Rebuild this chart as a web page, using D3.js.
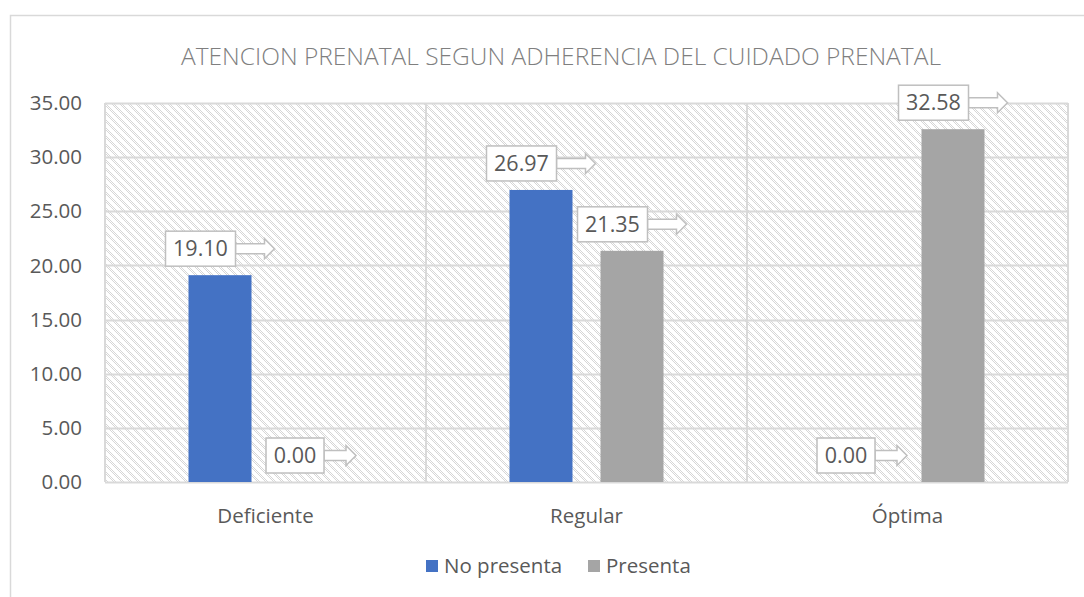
<!DOCTYPE html>
<html><head><meta charset="utf-8">
<script src="https://cdn.jsdelivr.net/npm/d3@7/dist/d3.min.js"></script>
<style>body{margin:0;background:#fff}svg{display:block}</style>
</head><body><svg id="c" width="1084" height="597"></svg>
<script>
const categories = ["Deficiente", "Regular", "Óptima"];
const seriesNames = ["No presenta", "Presenta"];
const noPresenta = [19.10, 26.97, 0.00];
const presenta = [0.00, 21.35, 32.58];
const yTicks = [0, 5, 10, 15, 20, 25, 30, 35];
const title = "ATENCION PRENATAL SEGUN ADHERENCIA DEL CUIDADO PRENATAL";
const colors = ["#4472c4", "#a5a5a5"];

const font = "'Open Sans', 'Noto Sans', sans-serif";
const svg = d3.select("#c");
const m = {left: 105, right: 1068, top: 103, bottom: 482};

// outer chart border
svg.append("rect").attr("x", 10.5).attr("y", 15.5).attr("width", 1100).attr("height", 700)
  .attr("fill", "#fff").attr("stroke", "#d9d9d9").attr("stroke-width", 1.5);

// pattern (dotted wide downward diagonal)
const defs = svg.append("defs");
const pat = defs.append("pattern").attr("id", "hatch").attr("patternUnits", "userSpaceOnUse")
  .attr("width", 8).attr("height", 8);
pat.append("rect").attr("width", 8).attr("height", 8).attr("fill", "#fff");
for (let px = 0; px < 8; px++) for (let py = 0; py < 8; py++) {
  const k = ((px - py) % 8 + 8) % 8;
  if (k < 4 && (px + py) % 2 === 0)
    pat.append("rect").attr("x", px).attr("y", py).attr("width", 1).attr("height", 1).attr("fill", "#d6d6d6");
}

const x0 = d3.scaleBand().domain(categories).range([m.left, m.right]).paddingInner(0).paddingOuter(0);
const y = d3.scaleLinear().domain([0, 35]).range([m.bottom, m.top]);
const bw = 63;
const x1pos = (i) => x0.bandwidth()/2 + (i === 0 ? -45.5 : 45.5) - bw/2;

svg.append("rect").attr("x", m.left).attr("y", m.top).attr("width", m.right - m.left).attr("height", m.bottom - m.top)
  .attr("fill", "url(#hatch)");

// gridlines
svg.append("g").selectAll("line").data(yTicks).join("line")
  .attr("x1", m.left).attr("x2", m.right)
  .attr("y1", d => Math.round(y(d)) + 0.5).attr("y2", d => Math.round(y(d)) + 0.5)
  .attr("stroke", "#d9d9d9").attr("stroke-width", 2);
const bounds = categories.map(c => x0(c)).concat([x0(categories[categories.length-1]) + x0.bandwidth()]);
svg.append("g").selectAll("line").data(bounds).join("line")
  .attr("x1", d => d).attr("x2", d => d).attr("y1", m.top).attr("y2", m.bottom)
  .attr("stroke", "#d9d9d9").attr("stroke-width", 2);

// y tick labels
svg.append("g").selectAll("text").data(yTicks).join("text")
  .attr("x", 82).attr("y", d => y(d)).attr("dy", "0.35em").attr("text-anchor", "end")
  .attr("font-family", font).attr("font-size", 20.5).attr("fill", "#595959")
  .text(d => d.toFixed(2));

// x labels
svg.append("g").selectAll("text").data(categories).join("text")
  .attr("x", d => x0(d) + x0.bandwidth()/2).attr("y", 523).attr("text-anchor", "middle")
  .attr("font-family", font).attr("font-size", 20.5).attr("fill", "#595959").text(d => d);

// bars
const data = [];
categories.forEach((c, ci) => {
  [noPresenta, presenta].forEach((s, si) => data.push({c, si, v: s[ci]}));
});
svg.append("g").selectAll("rect").data(data).join("rect")
  .attr("x", d => x0(d.c) + x1pos(d.si)).attr("width", bw)
  .attr("y", d => y(d.v)).attr("height", d => y(0) - y(d.v))
  .attr("fill", d => colors[d.si]);

// callouts
const lg = svg.append("g");
data.forEach(d => {
  const txt = d.v.toFixed(2);
  const cx = x0(d.c) + x1pos(d.si) + bw/2;
  const t = lg.append("text").attr("font-family", font).attr("font-size", 21.5).attr("fill", "#595959").text(txt);
  const tw = t.node().getComputedTextLength();
  const boxW = Math.round(tw + 15), boxH = 35;
  const arrowL = Math.round(boxW * 0.55);
  const total = boxW + arrowL;
  const bx = cx - total/2;
  const by = y(d.v) - 9 - boxH;
  const ay = by + boxH/2;
  const ax0 = bx + boxW, ax2 = ax0 + arrowL, ax1 = ax2 - 10;
  const path = `M${ax0},${ay-5} L${ax1},${ay-5} L${ax1},${ay-10} L${ax2},${ay} L${ax1},${ay+10} L${ax1},${ay+5} L${ax0},${ay+5} Z`;
  lg.insert("path", "text").attr("d", path).attr("fill", "#fff").attr("stroke", "#bfbfbf").attr("stroke-width", 1.5);
  lg.insert("rect", "text").attr("x", bx).attr("y", by).attr("width", boxW).attr("height", boxH)
    .attr("fill", "#fff").attr("stroke", "#bfbfbf").attr("stroke-width", 1.5);
  t.attr("x", bx + boxW/2).attr("y", ay).attr("dy", "0.35em").attr("text-anchor", "middle");
});

// title
svg.append("text").attr("x", 561).attr("y", 65).attr("text-anchor", "middle")
  .attr("font-family", font).attr("font-size", 24.5).attr("font-weight", 300).attr("fill", "#7f7f7f").text(title);

// legend
const legX = [426, 588];
const lgG = svg.append("g");
seriesNames.forEach((n, i) => {
  lgG.append("rect").attr("x", legX[i]).attr("y", 560).attr("width", 12).attr("height", 12).attr("fill", colors[i]);
  lgG.append("text").attr("x", legX[i] + 18).attr("y", 566).attr("dy", "0.35em")
    .attr("font-family", font).attr("font-size", 20.5).attr("fill", "#595959").text(n);
});
</script></body></html>
